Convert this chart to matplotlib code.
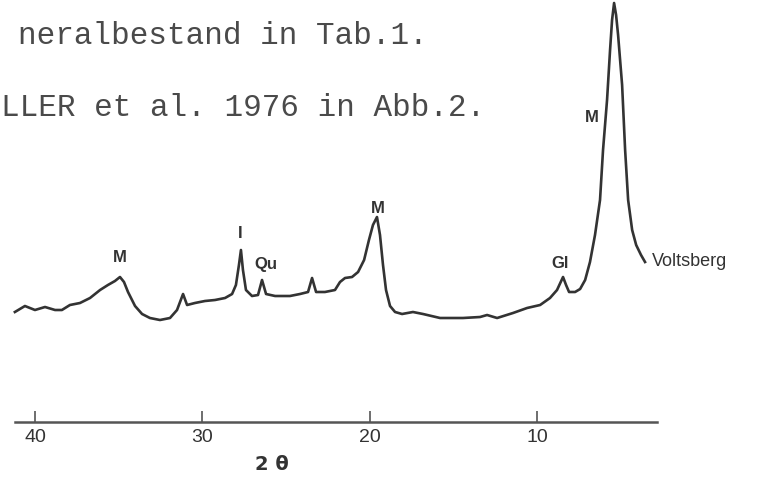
#!/usr/bin/env python3

import matplotlib
matplotlib.use( "Agg" )
import matplotlib.pyplot as plt

# 2-theta positions (deg) and intensity (arbitrary, above the drawn axis line)
two_theta = [ 41.20, 40.60, 40.00, 39.40, 38.80, 38.39, 37.91, 37.31, 36.71, 36.11,
              35.64, 35.22, 34.92, 34.68, 34.44, 34.02, 33.60, 33.13, 32.53, 31.93,
              31.51, 31.15, 30.91, 30.44, 29.84, 29.24, 28.64, 28.22, 27.99, 27.81,
              27.69, 27.57, 27.39, 27.03, 26.67, 26.43, 26.19, 25.65, 24.76, 24.16,
              23.68, 23.44, 23.20, 22.67, 22.07, 21.77, 21.47, 21.05, 20.69, 20.33,
              20.04, 19.80, 19.56, 19.38, 19.20, 19.02, 18.78, 18.48, 18.06, 17.41,
              16.81, 15.79, 14.42, 13.40, 12.98, 12.38, 11.43, 10.59, 9.81, 9.22,
              8.80, 8.44, 8.26, 8.08, 7.72, 7.42, 7.12, 6.83, 6.53, 6.23,
              6.05, 5.81, 5.63, 5.51, 5.39, 5.27, 5.15, 4.91, 4.73, 4.55,
              4.31, 4.07, 3.78, 3.54 ]
intensity = [ 110, 116, 112, 115, 112, 112, 117, 119, 124, 132,
              137, 141, 145, 140, 130, 116, 108, 104, 102, 104,
              112, 128, 117, 119, 121, 122, 124, 128, 137, 157,
              172, 152, 132, 126, 127, 142, 128, 126, 126, 128,
              130, 144, 130, 130, 132, 140, 144, 145, 150, 162,
              182, 197, 205, 187, 157, 132, 116, 110, 108, 110,
              108, 104, 104, 105, 107, 104, 109, 114, 117, 124,
              132, 145, 137, 130, 130, 133, 142, 160, 187, 222,
              272, 322, 372, 402, 419, 407, 387, 337, 272, 222,
              192, 177, 167, 160 ]

tick_values = [ 40, 30, 20, 10 ]
tick_labels = [ "40", "30", "20", "10" ]

# peak labels: text, 2-theta, intensity
peak_labels = [ "M", "I", "Qu", "M", "Gl", "M" ]
peak_theta = [ 34.92, 27.75, 26.19, 19.50, 8.62, 6.71 ]
peak_height = [ 165, 189, 158, 214, 159, 305 ]

sample_name = "Voltsberg"
axis_title = "2 θ"
header_lines = [ "neralbestand in Tab.1.", "LLER et al. 1976 in Abb.2." ]

ink = "#333333"

fig = plt.figure( figsize = ( 7.64, 4.79 ), dpi = 100 )
ax = fig.add_axes( [ 0, 0, 1, 1 ] )
ax.set_xlim( 42.09, -3.57 )
ax.set_ylim( -57, 422 )

ax.plot( two_theta, intensity, color = ink, lw = 1.9, solid_joinstyle = 'round' )

# the drawn 2-theta axis
for side in [ 'left', 'right', 'top' ]:
    ax.spines[side].set_visible( False )
ax.spines['bottom'].set_position( ( 'data', 0 ) )
ax.spines['bottom'].set_bounds( 41.2, 2.8 )
ax.spines['bottom'].set_color( "#555555" )
ax.spines['bottom'].set_linewidth( 1.8 )
ax.set_yticks( [] )
ax.set_xticks( tick_values )
ax.set_xticklabels( tick_labels, family = "Liberation Sans", fontsize = 14, color = ink )
ax.tick_params( axis = 'x', direction = 'in', length = 8, width = 1.2, color = "#555555", pad = 5 )

for text, x, y in zip( peak_labels, peak_theta, peak_height ):
    ax.text( x, y, text, ha = 'center', va = 'center', fontsize = 12, fontweight = 'bold',
             family = "Liberation Sans", color = ink )
ax.text( 3.12, 160, sample_name, ha = 'left', va = 'center', fontsize = 13,
         family = "Liberation Sans", color = ink )
ax.text( 25.83, -43, axis_title, ha = 'center', va = 'center', fontsize = 14,
         fontweight = 'bold', family = "DejaVu Sans", color = ink )

fig.text( 428 / 764, 1 - 44 / 479, header_lines[0], ha = 'right', va = 'baseline',
          family = "Liberation Mono", fontsize = 22.3, color = "#4a4a4a" )
fig.text( 1 / 764, 1 - 116 / 479, header_lines[1], ha = 'left', va = 'baseline',
          family = "Liberation Mono", fontsize = 22.3, color = "#4a4a4a" )

fig.savefig( "out.png", dpi = 100 )
